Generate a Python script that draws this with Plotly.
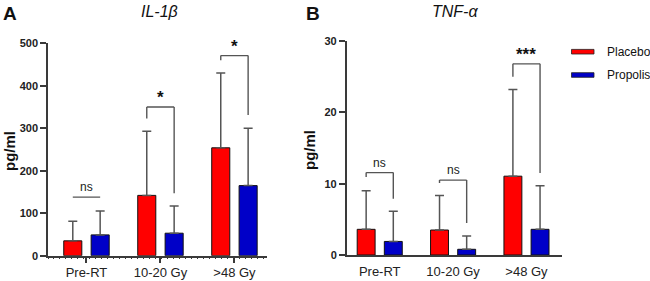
import plotly.graph_objects as go

# ---------------- data ----------------
categories = ["Pre-RT", "10-20 Gy", ">48 Gy"]
series_names = ["Placebo", "Propolis"]

il1b_placebo_mean = [35, 142, 254]
il1b_placebo_sd = [46, 151, 176]
il1b_propolis_mean = [49, 53, 165]
il1b_propolis_sd = [56, 64, 135]

tnf_placebo_mean = [3.6, 3.5, 11.05]
tnf_placebo_sd = [5.4, 4.85, 12.15]
tnf_propolis_mean = [1.9, 0.8, 3.6]
tnf_propolis_sd = [4.25, 1.85, 6.1]

il1b_sig = ["ns", "*", "*"]
il1b_bracket_top = [138, 350, 471]
il1b_bracket_left = [138, 323, 460]
il1b_bracket_right = [138, 147, 331]

tnf_sig = ["ns", "ns", "***"]
tnf_bracket_top = [11.55, 10.5, 26.8]
tnf_bracket_left = [10.95, 10.1, 25.0]
tnf_bracket_right = [7.9, 4.5, 11.5]

il1b_ticks = [0, 100, 200, 300, 400, 500]
tnf_ticks = [0, 10, 20, 30]

# ---------------- style ----------------
W, H = 650, 281
FONT = "Liberation Sans"
RED = "#ff0000"
BLUE = "#0000c8"
AX = "#3a3a3a"
ERR = "#555555"
BARGAP = 0.26
BARGROUPGAP = 0.34
OFF = (1 - BARGAP) / 4  # bar centre offset from group centre

def px(x):
    return x / W

def py(y):
    return (H - y) / H

xpos = list(range(len(categories)))

fig = go.Figure()

def add_bars(means, sds, color, name, xa, ya):
    fig.add_trace(go.Bar(
        x=xpos, y=means, name=name, xaxis=xa, yaxis=ya,
        marker=dict(color=color, line=dict(color="#111111", width=1)),
        error_y=dict(type="data", array=sds, arrayminus=[0] * len(sds),
                     symmetric=False, color=ERR, thickness=1.5, width=4.5),
        showlegend=False,
    ))

add_bars(il1b_placebo_mean, il1b_placebo_sd, RED, series_names[0], "x", "y")
add_bars(il1b_propolis_mean, il1b_propolis_sd, BLUE, series_names[1], "x", "y")
add_bars(tnf_placebo_mean, tnf_placebo_sd, RED, series_names[0], "x2", "y2")
add_bars(tnf_propolis_mean, tnf_propolis_sd, BLUE, series_names[1], "x2", "y2")

shapes = []
annotations = []

def add_brackets(sig, top, left, right, xref, yref, star_size):
    for i, s in enumerate(sig):
        xl, xr = xpos[i] - OFF, xpos[i] + OFF
        line = dict(color=ERR, width=1.4)
        shapes.append(dict(type="line", xref=xref, yref=yref, x0=xl, x1=xr,
                           y0=top[i], y1=top[i], line=line))
        if left[i] != top[i]:
            shapes.append(dict(type="line", xref=xref, yref=yref, x0=xl, x1=xl,
                               y0=left[i], y1=top[i], line=line))
        if right[i] != top[i]:
            shapes.append(dict(type="line", xref=xref, yref=yref, x0=xr, x1=xr,
                               y0=right[i], y1=top[i], line=line))
        if s == "ns":
            annotations.append(dict(xref=xref, yref=yref, x=xpos[i], y=top[i],
                                    text="ns", showarrow=False, yanchor="bottom",
                                    yshift=1, font=dict(family=FONT, size=12, color="#222")))
        else:
            annotations.append(dict(xref=xref, yref=yref, x=xpos[i], y=top[i],
                                    text="<b>" + s + "</b>", showarrow=False,
                                    yanchor="bottom", yshift=-2,
                                    font=dict(family=FONT, size=star_size, color="#111")))

add_brackets(il1b_sig, il1b_bracket_top, il1b_bracket_left, il1b_bracket_right, "x", "y", 17)
add_brackets(tnf_sig, tnf_bracket_top, tnf_bracket_left, tnf_bracket_right, "x2", "y2", 17)

# legend (manual)
for j, (nm, col) in enumerate(zip(series_names, [RED, BLUE])):
    yc = 51.7 + j * 23.3
    shapes.append(dict(type="rect", xref="paper", yref="paper",
                       x0=px(571.5), x1=px(594), y0=py(yc + 2.3), y1=py(yc - 2.3),
                       fillcolor=col, line=dict(color="#222", width=0.8)))
    annotations.append(dict(xref="paper", yref="paper", x=px(605), y=py(yc),
                            xanchor="left", yanchor="middle", text=nm, showarrow=False,
                            font=dict(family=FONT, size=12, color="#111")))

# panel letters / titles / y titles
annotations += [
    dict(xref="paper", yref="paper", x=px(9.5), y=py(14), text="<b>A</b>", showarrow=False,
         xanchor="center", yanchor="middle", font=dict(family=FONT, size=19, color="#111")),
    dict(xref="paper", yref="paper", x=px(312.5), y=py(14), text="<b>B</b>", showarrow=False,
         xanchor="center", yanchor="middle", font=dict(family=FONT, size=19, color="#111")),
    dict(xref="paper", yref="paper", x=px(159), y=py(12), text="<i>IL-1β</i>", showarrow=False,
         xanchor="center", yanchor="middle", font=dict(family=FONT, size=16, color="#111")),
    dict(xref="paper", yref="paper", x=px(455), y=py(12), text="<i>TNF-α</i>", showarrow=False,
         xanchor="center", yanchor="middle", font=dict(family=FONT, size=16, color="#111")),
    dict(xref="paper", yref="paper", x=px(10), y=py(151), text="<b>pg/ml</b>", showarrow=False,
         textangle=-90, xanchor="center", yanchor="middle",
         font=dict(family=FONT, size=15, color="#111")),
    dict(xref="paper", yref="paper", x=px(309), y=py(150), text="<b>pg/ml</b>", showarrow=False,
         textangle=-90, xanchor="center", yanchor="middle",
         font=dict(family=FONT, size=15, color="#111")),
]

tickfont_x = dict(family=FONT, size=13, color="#222")
tickfont_y = dict(family=FONT, size=11, color="#222", weight="bold")

fig.update_layout(
    width=W, height=H,
    margin=dict(l=0, r=0, t=0, b=0, pad=0),
    paper_bgcolor="white", plot_bgcolor="white",
    barmode="group", bargap=BARGAP, bargroupgap=BARGROUPGAP,
    shapes=shapes, annotations=annotations,
    xaxis=dict(domain=[px(48), px(267)], range=[-0.52, 2.44], anchor="y", automargin=False,
               tickvals=xpos, ticktext=categories, tickfont=tickfont_x,
               showline=True, linecolor=AX, linewidth=1.5, showgrid=False, zeroline=False,
               ticks="outside", ticklen=6, tickwidth=1.5, tickcolor=AX, ticklabelstandoff=-2,
               minor=dict(ticks="outside", ticklen=2, tickwidth=1, tickcolor=AX,
                          dtick=0.081, tick0=-0.52, showgrid=False)),
    yaxis=dict(domain=[py(255.7), py(43.3)], range=[0, 500], anchor="x", automargin=False,
               tickvals=il1b_ticks, tickfont=tickfont_y,
               showline=True, linecolor=AX, linewidth=1.5, showgrid=False, zeroline=False,
               ticks="outside", ticklen=6, tickwidth=1.5, tickcolor=AX),
    xaxis2=dict(domain=[px(346.7), px(561.7)], range=[-0.45, 2.48], anchor="y2", automargin=False,
                tickvals=xpos, ticktext=categories, tickfont=tickfont_x,
                showline=True, linecolor=AX, linewidth=1.5, showgrid=False, zeroline=False,
                ticks="outside", ticklen=6, tickcolor="rgba(0,0,0,0)", ticklabelstandoff=-2),
    yaxis2=dict(domain=[py(255), py(41)], range=[0, 30], anchor="x2", automargin=False,
                tickvals=tnf_ticks, tickfont=tickfont_y,
                showline=True, linecolor=AX, linewidth=1.5, showgrid=False, zeroline=False,
                ticks="outside", ticklen=6, tickwidth=1.5, tickcolor=AX),
)

fig.write_html("out.html", config={"displayModeBar": False},
               post_script="document.body.style.margin='0';document.body.style.overflow='hidden';")
